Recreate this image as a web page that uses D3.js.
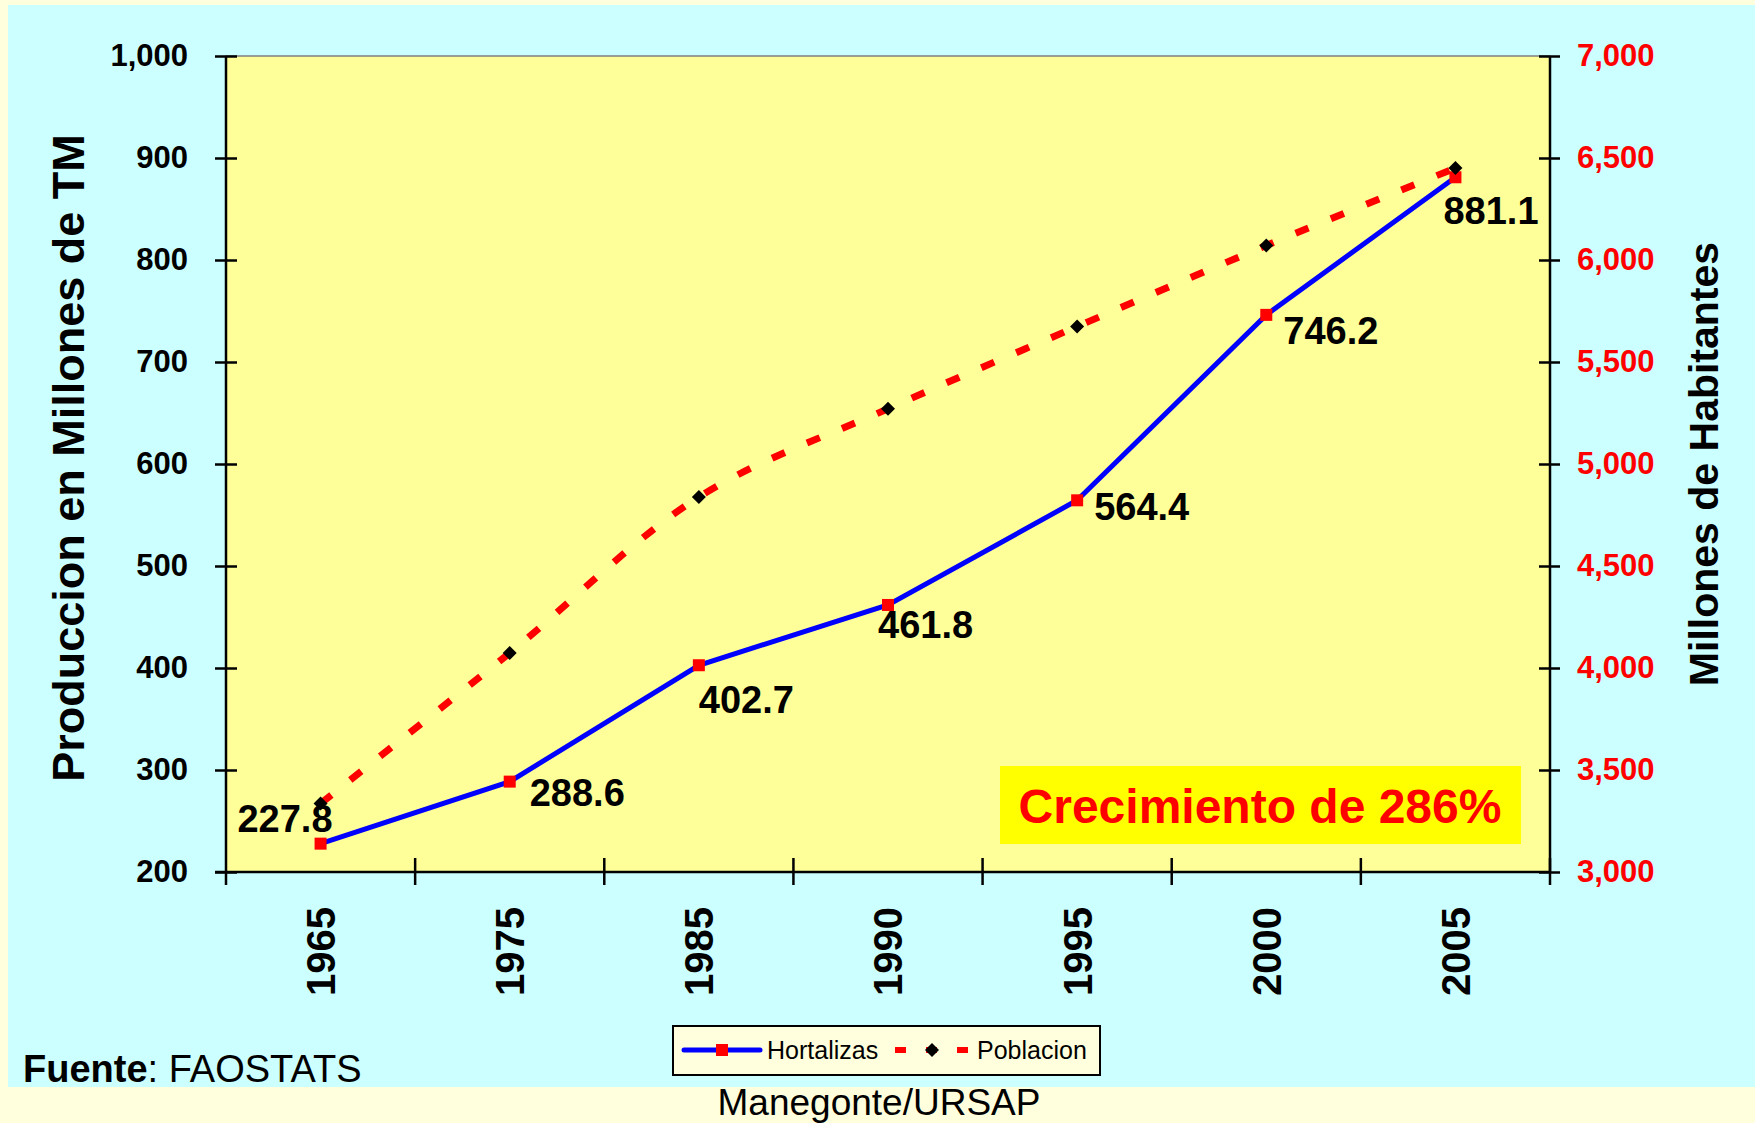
<!DOCTYPE html>
<html>
<head>
<meta charset="utf-8">
<script src="https://cdn.jsdelivr.net/npm/d3@7"></script>
<style>
  body { margin: 0; background: #FFFFDD; }
  svg { display: block; font-family: "Liberation Sans", Arial, sans-serif; }
</style>
</head>
<body>
<script>
// chart values
const years = ["1965", "1975", "1985", "1990", "1995", "2000", "2005"];
const hortalizas = [227.8, 288.6, 402.7, 461.8, 564.4, 746.2, 881.1];
const poblacion = [3336, 4074, 4838, 5271, 5674, 6071, 6451];
const leftTicks = [200, 300, 400, 500, 600, 700, 800, 900, 1000];
const rightTicks = [3000, 3500, 4000, 4500, 5000, 5500, 6000, 6500, 7000];

// where each value label sits relative to its point (layout only)
const labelPlacement = [
  { dx: 12, dy: -12, anchor: "end" },
  { dx: 20, dy: 24, anchor: "start" },
  { dx: 0, dy: 48, anchor: "start" },
  { dx: -10, dy: 33, anchor: "start" },
  { dx: 17, dy: 20, anchor: "start" },
  { dx: 17, dy: 29, anchor: "start" },
  { dx: -12, dy: 47, anchor: "start" }
];

(function() {
  const W = 1755, H = 1123;
  const plot = { left: 226, right: 1550, top: 56, bottom: 872 };

  const svg = d3.select("body").append("svg")
    .attr("width", W)
    .attr("height", H);

  // backgrounds
  svg.append("rect").attr("width", W).attr("height", H).attr("fill", "#FFFFDD");
  svg.append("rect")
    .attr("x", 8).attr("y", 5)
    .attr("width", W - 8).attr("height", 1087 - 5)
    .attr("fill", "#CCFFFF");
  svg.append("rect")
    .attr("x", plot.left).attr("y", plot.top)
    .attr("width", plot.right - plot.left)
    .attr("height", plot.bottom - plot.top)
    .attr("fill", "#FFFF99")
    .attr("stroke", "#808080")
    .attr("stroke-width", 1.5);

  // scales
  const x = d3.scaleBand().domain(years).range([plot.left, plot.right]);
  const cx = d => x(d) + x.bandwidth() / 2;
  const yL = d3.scaleLinear().domain([200, 1000]).range([plot.bottom, plot.top]);
  const yR = d3.scaleLinear().domain([3000, 7000]).range([plot.bottom, plot.top]);

  // left axis
  const gL = svg.append("g").attr("transform", `translate(${plot.left},0)`);
  gL.call(d3.axisLeft(yL).tickValues(leftTicks).tickFormat(d3.format(",")).tickSize(11).tickPadding(27));
  gL.append("g").call(d3.axisLeft(yL).tickValues(leftTicks).tickFormat("").tickSize(-11));
  gL.selectAll(".domain").remove();
  gL.append("line").attr("y1", plot.top).attr("y2", plot.bottom + 13);
  gL.selectAll("line").attr("stroke", "#000").attr("stroke-width", 2.5);
  gL.selectAll("text")
    .attr("font-size", 31).attr("font-weight", "bold")
    .attr("font-family", "Liberation Sans, Arial, sans-serif")
    .attr("fill", "#000");

  // right axis
  const gR = svg.append("g").attr("transform", `translate(${plot.right},0)`);
  gR.call(d3.axisRight(yR).tickValues(rightTicks).tickFormat(d3.format(",")).tickSize(10).tickPadding(17));
  gR.append("g").call(d3.axisRight(yR).tickValues(rightTicks).tickFormat("").tickSize(-11));
  gR.selectAll(".domain").remove();
  gR.append("line").attr("y1", plot.top).attr("y2", plot.bottom);
  gR.selectAll("line").attr("stroke", "#000").attr("stroke-width", 2.5);
  gR.selectAll("text")
    .attr("font-size", 31).attr("font-weight", "bold")
    .attr("font-family", "Liberation Sans, Arial, sans-serif")
    .attr("fill", "#FF0000");

  // bottom axis: ticks at category boundaries, rotated labels at centres
  const gX = svg.append("g");
  gX.append("line")
    .attr("x1", plot.left - 11).attr("x2", plot.right)
    .attr("y1", plot.bottom).attr("y2", plot.bottom);
  const bounds = years.map(d => x(d)).concat([plot.right]);
  gX.selectAll("line.tick")
    .data(bounds.slice(1))
    .join("line")
    .attr("class", "tick")
    .attr("x1", d => d).attr("x2", d => d)
    .attr("y1", plot.bottom - 14).attr("y2", plot.bottom + 13);
  gX.selectAll("line").attr("stroke", "#000").attr("stroke-width", 2.5);
  gX.selectAll("text.year")
    .data(years)
    .join("text")
    .attr("class", "year")
    .attr("transform", d => `translate(${cx(d)},907) rotate(-90)`)
    .attr("text-anchor", "end")
    .attr("dy", "0.36em")
    .attr("font-size", 40).attr("font-weight", "bold")
    .text(d => d);

  // axis titles
  svg.append("text")
    .attr("transform", "translate(68,458) rotate(-90)")
    .attr("text-anchor", "middle")
    .attr("dy", "0.36em")
    .attr("font-size", 45).attr("font-weight", "bold")
    .text("Produccion en Millones de TM");
  svg.append("text")
    .attr("transform", "translate(1703,464) rotate(-90)")
    .attr("text-anchor", "middle")
    .attr("dy", "0.36em")
    .attr("font-size", 41).attr("font-weight", "bold")
    .text("Millones de Habitantes");

  // Hortalizas
  const hData = years.map((d, i) => ({ year: d, v: hortalizas[i] }));
  const pData = years.map((d, i) => ({ year: d, v: poblacion[i] }));

  svg.append("path")
    .datum(hData)
    .attr("fill", "none")
    .attr("stroke", "#0000FF")
    .attr("stroke-width", 5)
    .attr("d", d3.line().x(d => cx(d.year)).y(d => yL(d.v)));
  svg.selectAll("rect.hmark")
    .data(hData)
    .join("rect")
    .attr("class", "hmark")
    .attr("x", d => cx(d.year) - 6).attr("y", d => yL(d.v) - 6)
    .attr("width", 12).attr("height", 12)
    .attr("fill", "#FF0000");

  // Poblacion (smoothed, dashed)
  svg.append("path")
    .datum(pData)
    .attr("fill", "none")
    .attr("stroke", "#FF0000")
    .attr("stroke-width", 7)
    .attr("stroke-dasharray", "14,24")
    .attr("d", d3.line().curve(d3.curveCatmullRom.alpha(0.5)).x(d => cx(d.year)).y(d => yR(d.v)));
  svg.selectAll("path.pmark")
    .data(pData)
    .join("path")
    .attr("class", "pmark")
    .attr("transform", d => `translate(${cx(d.year)},${yR(d.v)})`)
    .attr("d", "M0,-7L7,0L0,7L-7,0Z")
    .attr("fill", "#000");

  // value labels
  svg.selectAll("text.vlabel")
    .data(hData)
    .join("text")
    .attr("class", "vlabel")
    .attr("x", (d, i) => cx(d.year) + labelPlacement[i].dx)
    .attr("y", (d, i) => yL(d.v) + labelPlacement[i].dy)
    .attr("text-anchor", (d, i) => labelPlacement[i].anchor)
    .attr("font-size", 38).attr("font-weight", "bold")
    .text(d => d.v.toFixed(1));

  // growth note
  svg.append("rect")
    .attr("x", 1000).attr("y", 766)
    .attr("width", 521).attr("height", 78)
    .attr("fill", "#FFFF00");
  svg.append("text")
    .attr("x", 1260).attr("y", 823)
    .attr("text-anchor", "middle")
    .attr("font-size", 48).attr("font-weight", "bold")
    .attr("fill", "#FF0000")
    .text("Crecimiento de 286%");

  // legend
  const lg = svg.append("g");
  lg.append("rect")
    .attr("x", 673).attr("y", 1026)
    .attr("width", 427).attr("height", 49)
    .attr("fill", "#FFFFDD")
    .attr("stroke", "#000").attr("stroke-width", 2);
  lg.append("line")
    .attr("x1", 684).attr("x2", 760).attr("y1", 1050).attr("y2", 1050)
    .attr("stroke", "#0000FF").attr("stroke-width", 5).attr("stroke-linecap", "round");
  lg.append("rect")
    .attr("x", 716).attr("y", 1044).attr("width", 12).attr("height", 12)
    .attr("fill", "#FF0000");
  lg.append("text")
    .attr("x", 767).attr("y", 1059)
    .attr("font-size", 25)
    .text("Hortalizas");
  lg.append("line")
    .attr("x1", 895).attr("x2", 971).attr("y1", 1050).attr("y2", 1050)
    .attr("stroke", "#FF0000").attr("stroke-width", 6)
    .attr("stroke-dasharray", "11,20");
  lg.append("path")
    .attr("transform", "translate(932,1050)")
    .attr("d", "M0,-7L7,0L0,7L-7,0Z")
    .attr("fill", "#000");
  lg.append("text")
    .attr("x", 977).attr("y", 1059)
    .attr("font-size", 25)
    .text("Poblacion");

  // source notes
  const src = svg.append("text")
    .attr("x", 23).attr("y", 1082)
    .attr("font-size", 38);
  src.append("tspan").attr("font-weight", "bold").text("Fuente");
  src.append("tspan").text(": FAOSTATS");

  svg.append("text")
    .attr("x", 879).attr("y", 1115)
    .attr("text-anchor", "middle")
    .attr("font-size", 37)
    .text("Manegonte/URSAP");
})();
</script>
</body>
</html>
